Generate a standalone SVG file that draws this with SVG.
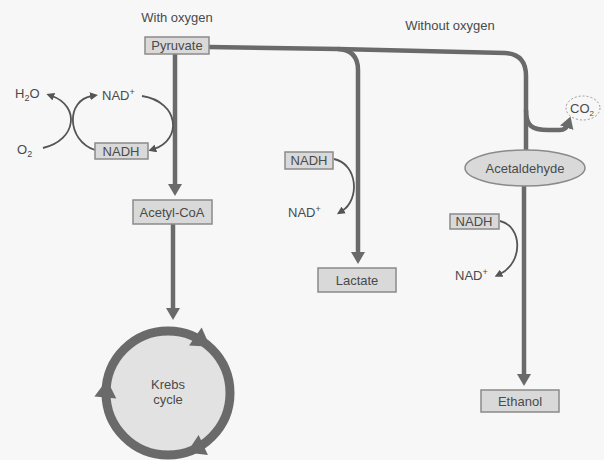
<svg xmlns="http://www.w3.org/2000/svg" width="604" height="460" viewBox="0 0 604 460">
<style>
text{font-family:"Liberation Sans",Arial,sans-serif;font-size:13px;fill:#4a4a4a}
.c{text-anchor:middle}
.box{fill:#d9d9d9;stroke:#8a8a8a;stroke-width:1.5}
.thick{fill:none;stroke:#6a6a6a;stroke-width:4.5}
.thin{fill:none;stroke:#555;stroke-width:1.8}
</style>
<defs>
<marker id="big" markerUnits="userSpaceOnUse" markerWidth="14" markerHeight="14" refX="4" refY="7" orient="auto">
<path d="M0,0 L12,7 L0,14 Z" fill="#6a6a6a"/>
</marker>
<marker id="sm" markerUnits="userSpaceOnUse" markerWidth="8" markerHeight="8" refX="2" refY="4" orient="auto">
<path d="M0,0 L8,4 L0,8 Z" fill="#555"/>
</marker>
</defs>
<rect width="604" height="460" fill="#f7f7f7"/>
<text x="177" y="22" class="c">With oxygen</text>
<text x="450" y="30" class="c">Without oxygen</text>
<g id="connectors">
<path class="thick" d="M209,47 L338,49 Q358,50 358,70 L358,256" marker-end="url(#big)"/>
<path class="thick" d="M338,49 L505,53 Q526,54 526,76 L526,152"/>
<path class="thick" d="M526,110 C526,126 532,130 548,130 L560,130 Q566,130 568,124" marker-end="url(#big)"/>
<path class="thick" d="M175,54 L175,188" marker-end="url(#big)"/>
<path class="thick" d="M173,224 L173,312" marker-end="url(#big)"/>
<path class="thick" d="M524,186 L524,378" marker-end="url(#big)"/>
<path class="thin" d="M43,148 C77,140 80,106 52,96" marker-end="url(#sm)"/>
<path class="thin" d="M95,150 C66,140 66,100 92,96" marker-end="url(#sm)"/>
<path class="thin" d="M142,96 C180,102 182,140 154,149" marker-end="url(#sm)"/>
<path class="thin" d="M334,159 C358,164 360,200 342,211" marker-end="url(#sm)"/>
<path class="thin" d="M500,221 C522,226 524,262 500,274" marker-end="url(#sm)"/>
</g>
<g id="pyruvate"><rect class="box" x="145" y="37" width="64" height="17"/><text x="177" y="50" class="c">Pyruvate</text></g>
<g id="acetylcoa"><rect class="box" x="133" y="200" width="79" height="24"/><text x="172" y="217" class="c" font-size="13.5">Acetyl-CoA</text></g>
<g id="krebs">
<circle cx="168" cy="393" r="62" fill="#e2e2e2" stroke="#6a6a6a" stroke-width="9"/>
<polygon points="219,383 241,383 230,401" fill="#6a6a6a" transform="rotate(-55 168 393)"/>
<polygon points="219,383 241,383 230,401" fill="#6a6a6a" transform="rotate(65 168 393)"/>
<polygon points="219,383 241,383 230,401" fill="#6a6a6a" transform="rotate(185 168 393)"/>
<text x="168" y="389" class="c">Krebs</text>
<text x="168" y="404" class="c">cycle</text>
</g>
<g id="h2o"><text x="15" y="98">H<tspan font-size="9" dy="3">2</tspan><tspan dy="-3">O</tspan></text></g>
<g id="o2"><text x="17" y="154">O<tspan font-size="9" dy="3">2</tspan></text></g>
<g id="nadplus1"><text x="102" y="100">NAD<tspan font-size="9" dy="-5">+</tspan></text></g>
<g id="nadh1"><rect class="box" x="95" y="143" width="53" height="16" fill="#eee"/><text x="121" y="156" class="c">NADH</text></g>
<g id="nadh2"><rect class="box" x="285" y="152" width="48" height="17"/><text x="309" y="165" class="c">NADH</text></g>
<g id="nadplus2"><text x="288" y="217">NAD<tspan font-size="9" dy="-5">+</tspan></text></g>
<g id="lactate"><rect class="box" x="318" y="268" width="78" height="24"/><text x="357" y="285" class="c">Lactate</text></g>
<g id="co2"><ellipse cx="583" cy="108" rx="17" ry="12" fill="none" stroke="#999" stroke-width="1" stroke-dasharray="2,2"/><text x="582" y="113" class="c" font-size="12">CO<tspan font-size="8" dy="3">2</tspan></text></g>
<g id="acetaldehyde"><ellipse cx="525" cy="168" rx="60" ry="18" fill="#d9d9d9" stroke="#8a8a8a" stroke-width="1.5"/><text x="525" y="173" class="c" font-size="14">Acetaldehyde</text></g>
<g id="nadh3"><rect class="box" x="450" y="214" width="49" height="15"/><text x="474" y="226" class="c">NADH</text></g>
<g id="nadplus3"><text x="455" y="280">NAD<tspan font-size="9" dy="-5">+</tspan></text></g>
<g id="ethanol"><rect class="box" x="481" y="390" width="78" height="22"/><text x="520" y="406" class="c">Ethanol</text></g>
</svg>
